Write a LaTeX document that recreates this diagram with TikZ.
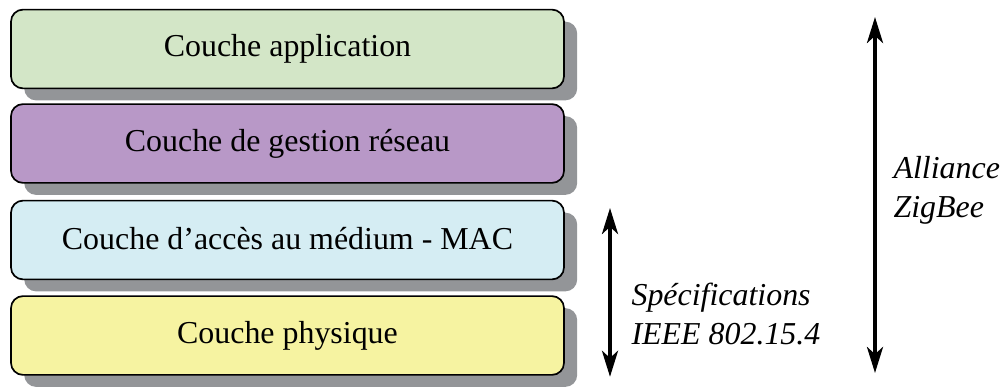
\documentclass[tikz,border=0pt]{standalone}
\usepackage{fontspec}
\setmainfont{Liberation Serif}[ItalicFont={Liberation Serif Italic}]
\usetikzlibrary{arrows.meta,shadows}
\definecolor{appgreen}{HTML}{D3E6C7}
\definecolor{netpurple}{HTML}{B898C7}
\definecolor{macblue}{HTML}{D5EDF3}
\definecolor{phyyellow}{HTML}{F6F3A1}
\definecolor{shadowgray}{HTML}{939598}

\begin{document}
\begin{tikzpicture}[thick]
    % `layer' is used for the four boxes of the stack.
    % `span' is used for the two double arrows on the right.
    % `tag' is used for the italic labels next to the arrows.
    \tikzstyle{layer} = [draw,line width=1.2pt,rounded corners=3mm,
      minimum width=13.825cm,minimum height=1.97cm,
      font=\fontsize{22.7}{27}\selectfont,
      drop shadow={shadow xshift=0.33cm,shadow yshift=-0.3cm,
        fill=shadowgray,opacity=1}]
    \tikzstyle{span} = [line width=2.8pt,
      {Stealth[length=0.65cm,width=0.4cm,inset=0.18cm]}-{Stealth[length=0.65cm,width=0.4cm,inset=0.18cm]}]
    \tikzstyle{tag} = [align=left,inner sep=0pt,
      font=\fontsize{22.7}{27.7}\selectfont\itshape]
    %
    \useasboundingbox (0,0) rectangle (25.1,-9.7);
    % Draw the stack.
    \node[layer,fill=appgreen]   (app) at (7.1875,-1.225)  {\raisebox{2pt}{Couche application}};
    \node[layer,fill=netpurple]  (nwk) at (7.1875,-3.5875) {\raisebox{2pt}{Couche de gestion réseau}};
    \node[layer,fill=macblue]    (mac) at (7.1875,-6.0)    {\raisebox{2pt}{Couche d’accès au médium - MAC}};
    \node[layer,fill=phyyellow]  (phy) at (7.1875,-8.3875) {\raisebox{2pt}{Couche physique}};
    % Arrow end points.
    \coordinate (zbtop) at (21.875,-0.425);
    \coordinate (zbbot) at (21.875,-9.325);
    \coordinate (ieeetop) at (15.25,-5.2);
    \coordinate (ieeebot) at (15.25,-9.42);
    % Draw arrows and labels.
    \draw[span] (zbtop) -- (zbbot);
    \draw[span] (ieeetop) -- (ieeebot);
    \node[tag,anchor=west] (zigbee) at (22.325,-4.75) {Alliance\\ZigBee};
    \node[tag,anchor=west] (ieee) at (15.775,-7.85) {Spécifications\\IEEE 802.15.4};
\end{tikzpicture}
\end{document}
